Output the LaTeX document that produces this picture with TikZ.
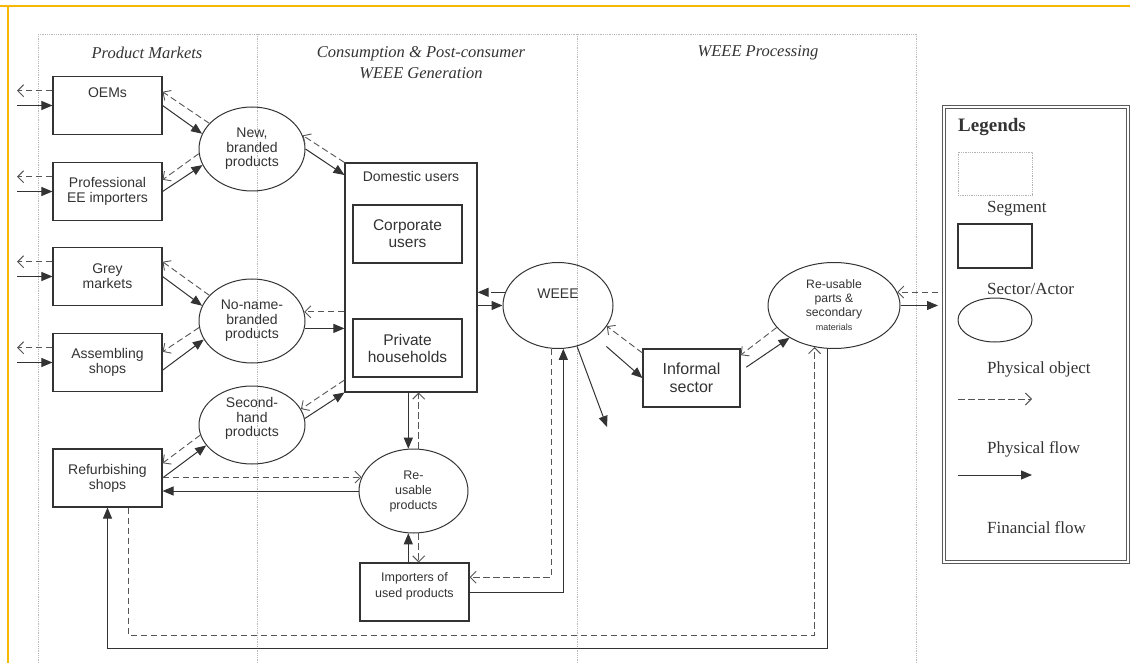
\documentclass[tikz,border=0pt]{standalone}
\usepackage{fontspec}
\setmainfont{Liberation Serif}
\setsansfont{Liberation Sans}
\usetikzlibrary{arrows.meta,shapes.geometric}

\definecolor{ink}{HTML}{333333}
\definecolor{flowgray}{HTML}{555555}
\definecolor{pageyellow}{HTML}{F6B800}

\newcommand{\lifted}[2]{\raisebox{#1}[0pt][0pt]{\begin{tabular}[b]{@{}c@{}}#2\end{tabular}}}

\begin{document}
\begin{tikzpicture}[
            x=1pt, y=-1pt,
            actor/.style={draw=ink, line width=1.1pt, minimum width=109pt,
                minimum height=58pt, inner sep=0pt, align=center, text=ink,
                font=\sffamily\fontsize{14}{15}\selectfont},
            object/.style={ellipse, draw=ink, line width=1pt, minimum width=106pt,
                minimum height=84pt, inner sep=0pt, align=center, text=ink,
                font=\sffamily\fontsize{14}{14.5}\selectfont},
            segline/.style={draw=gray!55, densely dotted, line width=0.8pt},
            heading/.style={text=ink, align=center,
                font=\itshape\fontsize{16.5}{21}\selectfont},
            phys/.style={draw=flowgray, line width=0.9pt, dash pattern=on 6.5pt off 3.5pt,
                -{Straight Barb[length=6pt,width=12pt]}},
            fin/.style={draw=ink, line width=1pt, -{Triangle[length=11pt,width=9pt]}},
            legtext/.style={anchor=west, inner sep=0pt, text=ink,
                font=\fontsize{17}{20}\selectfont}
        ]
        \useasboundingbox (0,0) rectangle (1130,663);
        \draw[pageyellow, line width=2pt] (0,6) -- (1130,6);
        \draw[pageyellow, line width=2pt] (8,6) -- (8,663);

        \draw[segline] (38,34) -- (916,34);
        \foreach \x in {38,257,577,916}
            \draw[segline] (\x,34) -- (\x,663);
        \node[heading] (hprod) at (147,53) {Product Markets};
        \node[heading] (hcons) at (421,63) {Consumption \& Post-consumer\\WEEE Generation};
        \node[heading] (hproc) at (758,53) {WEEE Processing};

        \node[actor] (oem) at (107.5,105.5) {\raisebox{8pt}[0pt][0pt]{OEMs}};
        \node[actor] (prof) at (107.5,191.5) {Professional\\EE importers};
        \node[actor] (grey) at (107.5,276.5) {Grey\\markets};
        \node[actor] (assem) at (107.5,362.5) {Assembling\\shops};
        \node[actor] (refurb) at (107.5,478) {Refurbishing\\shops};

        \node[object] (newb) at (252,149) {New,\\branded\\products};
        \node[object] (noname) at (252,321) {No-name-\\branded\\products};
        \node[object, minimum height=78pt] (second) at (252,425)
            {\lifted{-11.5pt}{Second-\\hand\\products}};

        \node[actor, minimum width=132pt, minimum height=229pt] (domestic) at (411,277.5)
            {\raisebox{96pt}[0pt][0pt]{Domestic users}};
        \node[actor, font=\sffamily\fontsize{15.5}{17}\selectfont] (corp) at (407.5,234) {Corporate\\users};
        \node[actor, font=\sffamily\fontsize{15.5}{17}\selectfont] (priv) at (407.5,348) {Private\\households};

        \node[object, minimum width=110pt, minimum height=86pt] (weee) at (558,305.5)
            {\raisebox{7.5pt}[0pt][0pt]{WEEE}};
        \node[object, minimum width=109pt, font=\sffamily\fontsize{12.5}{15}\selectfont] (reuse) at (413.5,491)
            {Re-\\usable\\products};
        \node[actor, font=\sffamily\fontsize{12.5}{16}\selectfont] (imp) at (414.5,592)
            {\lifted{-5.5pt}{Importers of\\used products}};
        \node[actor, minimum width=97pt, font=\sffamily\fontsize{16}{18}\selectfont] (informal) at (691.5,378)
            {Informal\\sector};
        \node[object, minimum width=132pt, minimum height=86pt, font=\sffamily\fontsize{12.2}{14}\selectfont] (parts) at (834,305.5)
            {Re-usable\\parts \&\\secondary\\{\fontsize{9}{12}\selectfont materials}};

        \coordinate (outL) at (17,0);
        \foreach \b in {oem,prof,grey,assem} {
            \draw[phys] (\b.165) -- (\b.165 -| outL);
            \draw[fin] (\b.west -| outL) -- (\b.west);
        }

        \draw[phys] (newb.149) -- (oem.14);
        \draw[fin] (oem.east) -- (newb.163);
        \draw[phys] (newb.185) -- (prof.12);
        \draw[fin] (prof.east) -- (newb.198);
        \draw[phys] (noname.149) -- (grey.15);
        \draw[fin] (grey.east) -- (noname.163);
        \draw[phys] (noname.187) -- (assem.11);
        \draw[fin] (assem.352) -- (noname.201);
        \draw[phys] (second.191) -- (refurb.15);
        \draw[fin] (refurb.east) -- (second.204);

        \draw[fin] (newb.east) -- (domestic.123);
        \draw[phys] (domestic.north west) -- (newb.15);
        \draw[phys] (domestic.west |- noname.10) -- (noname.10);
        \draw[fin] (noname.352) -- (noname.352 -| domestic.west);
        \draw[phys] (domestic.237) -- (second.18);
        \draw[fin] (second.7) -- (domestic.south west);

        \draw[fin, dash pattern=on 14pt off 4pt] (weee.166) -- (weee.166 -| domestic.east);
        \draw[fin] (domestic.east |- weee.west) -- (weee.west);

        \draw[fin] (reuse.97 |- domestic.south) -- (reuse.97);
        \draw[phys] (reuse.83) -- (reuse.83 |- domestic.south);
        \draw[phys] (refurb.east |- reuse.165) -- (reuse.165);
        \draw[fin] (reuse.west) -- (reuse.west -| refurb.east);
        \draw[fin] (reuse.263 |- imp.north) -- (reuse.263);
        \draw[phys] (reuse.277) -- (reuse.277 |- imp.north);

        \draw[phys] (weee.261) |- (imp.15);
        \draw[fin] (imp.east) -| (weee.277);
        \coordinate (dump) at (607,427);
        \draw[fin] (weee.295) -- (dump);

        \draw[phys] (informal.153) -- (weee.337);
        \draw[fin, shorten <=14pt] (weee.320) -- (informal.west);
        \draw[phys] (parts.201) -- (informal.25);
        \draw[fin, shorten <=7pt] (informal.8) -- (parts.216);

        \coordinate (outR) at (938,0);
        \draw[phys] (parts.12 -| outR) -- (parts.12);
        \draw[fin] (parts.east) -- (parts.east -| outR);

        \coordinate (loopP) at (0,635);
        \coordinate (loopF) at (0,648);
        \draw[phys] (refurb.305) -- (refurb.305 |- loopP) -| (parts.245);
        \draw[fin] (parts.261) -- (parts.261 |- loopF) -| (refurb.south);

        \draw[draw=gray!70!black, line width=1.1pt, double=white, double distance=1.2pt]
            (944,107) rectangle (1128,562);
        \node[anchor=west, inner sep=0pt, text=ink, font=\bfseries\fontsize{19}{22}\selectfont]
            (leghead) at (958,127) {Legends};
        \node[draw=gray!60, densely dotted, line width=0.8pt, minimum width=74pt,
            minimum height=43pt] (legseg) at (995,173.5) {};
        \node[legtext] (legsegtxt) at (987,209) {Segment};
        \node[draw=ink, line width=1.1pt, minimum width=74pt, minimum height=44pt]
            (legsec) at (995,246) {};
        \node[legtext] (legsectxt) at (987,289) {Sector/Actor};
        \node[ellipse, draw=ink, line width=1pt, minimum width=74pt, minimum height=44pt,
            inner sep=0pt] (legobj) at (995,320) {};
        \node[legtext] (legobjtxt) at (987,369) {Physical object};
        \coordinate (legpa) at (958,399);
        \coordinate (legpb) at (1032,399);
        \draw[phys] (legpa) -- (legpb);
        \node[legtext] (legphystxt) at (987,449) {Physical flow};
        \coordinate (legfa) at (958,475);
        \coordinate (legfb) at (1032,475);
        \draw[fin] (legfa) -- (legfb);
        \node[legtext] (legfintxt) at (987,528) {Financial flow};
    \end{tikzpicture}
\end{document}
